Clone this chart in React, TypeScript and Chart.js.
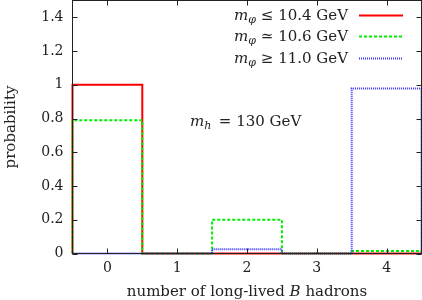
import React, { useEffect, useRef } from "react";
import { Chart, registerables } from "chart.js";

Chart.register(...registerables);

const categories = [0, 1, 2, 3, 4];
const redValues = [1.0, 0, 0, 0, 0];
const greenValues = [0.79, 0, 0.2, 0, 0.015];
const blueValues = [0, 0, 0.025, 0, 0.978];
const yTicks = [0, 0.2, 0.4, 0.6, 0.8, 1, 1.2, 1.4];
const legendLabels = [
  { rel: " \u2264 10.4 GeV" },
  { rel: " \u2243 10.6 GeV" },
  { rel: " \u2265 11.0 GeV" },
];
const xTitleParts = ["number of long-lived ", "B", " hadrons"];
const yTitle = "probability";
const annotationMass = "\u2002= 130 GeV";

const FONT = '"DejaVu Serif", "Liberation Serif", serif';
const TEXT = "#222";
const COLORS = ["#ff0000", "#00ee00", "#3535ff"];
const DASHES: number[][] = [[], [3, 2], [1, 1]];
const WIDTHS = [2, 2, 2];

function steps(vals: number[]) {
  const pts: { x: number; y: number }[] = [{ x: categories[0] - 0.5, y: 0 }];
  categories.forEach((c, i) => pts.push({ x: c - 0.5, y: vals[i] }));
  const last = categories[categories.length - 1] + 0.5;
  pts.push({ x: last, y: vals[vals.length - 1] });
  pts.push({ x: last, y: 0 });
  return pts;
}

type Seg = { t: string; it?: boolean; sub?: boolean };

function segFont(s: Seg, size: number) {
  const sz = s.sub ? Math.round(size * 0.72) : size;
  return `${s.it ? "italic " : ""}${sz}px ${FONT}`;
}

function drawRich(ctx: CanvasRenderingContext2D, segs: Seg[], x: number, y: number, size: number, align: "left" | "right" | "center") {
  let w = 0;
  for (const s of segs) {
    ctx.font = segFont(s, size);
    w += ctx.measureText(s.t).width;
  }
  let cx = align === "left" ? x : align === "right" ? x - w : x - w / 2;
  ctx.textAlign = "left";
  ctx.textBaseline = "alphabetic";
  ctx.fillStyle = TEXT;
  for (const s of segs) {
    ctx.font = segFont(s, size);
    ctx.fillText(s.t, cx, s.sub ? y + size * 0.22 : y);
    cx += ctx.measureText(s.t).width;
  }
}

const decorPlugin = {
  id: "decor",
  afterDraw(chart: any) {
    const ctx: CanvasRenderingContext2D = chart.ctx;
    const { left, right, top, bottom } = chart.chartArea;
    const xs = chart.scales.x;
    const ys = chart.scales.y;
    ctx.save();
    ctx.strokeStyle = "#222";
    ctx.lineWidth = 1;
    ctx.setLineDash([]);
    ctx.beginPath();
    const tl = 5;
    for (const c of categories) {
      const px = Math.round(xs.getPixelForValue(c)) + 0.5;
      ctx.moveTo(px, bottom);
      ctx.lineTo(px, bottom - tl);
      ctx.moveTo(px, top);
      ctx.lineTo(px, top + tl);
    }
    for (const v of yTicks) {
      const py = Math.round(ys.getPixelForValue(v)) + 0.5;
      ctx.moveTo(left, py);
      ctx.lineTo(left + tl, py);
      ctx.moveTo(right, py);
      ctx.lineTo(right - tl, py);
    }
    ctx.stroke();
    ctx.strokeRect(left, top, right - left, bottom - top);

    // legend
    const rowsY = [15, 36, 58];
    const sym = ["\u03c6", "\u03c6", "\u03c6"];
    legendLabels.forEach((l, i) => {
      drawRich(ctx, [{ t: "m", it: true }, { t: sym[i], it: true, sub: true }, { t: l.rel }], 348, rowsY[i] + 5, 15, "right");
      ctx.save();
      ctx.strokeStyle = COLORS[i];
      ctx.lineWidth = WIDTHS[i];
      ctx.setLineDash(DASHES[i]);
      ctx.beginPath();
      ctx.moveTo(359, rowsY[i] + 0.5);
      ctx.lineTo(403, rowsY[i] + 0.5);
      ctx.stroke();
      ctx.restore();
    });

    // annotation
    drawRich(ctx, [{ t: "m", it: true }, { t: "h", it: true, sub: true }, { t: annotationMass }], 190, 126, 15, "left");

    // x title
    drawRich(ctx, [{ t: xTitleParts[0] }, { t: xTitleParts[1], it: true }, { t: xTitleParts[2] }], (left + right) / 2, 296, 15, "center");

    // y title
    ctx.save();
    ctx.translate(15, 127);
    ctx.rotate(-Math.PI / 2);
    drawRich(ctx, [{ t: yTitle }], 0, 0, 15, "center");
    ctx.restore();
    ctx.restore();
  },
};

export default function App() {
  const ref = useRef<HTMLCanvasElement>(null);
  useEffect(() => {
    if (!ref.current) return;
    const data = [redValues, greenValues, blueValues];
    const chart = new Chart(ref.current, {
      type: "line",
      data: {
        datasets: data.map((vals, i) => ({
          data: steps(vals),
          borderColor: COLORS[i],
          borderWidth: WIDTHS[i],
          borderDash: DASHES[i],
          stepped: "before" as const,
          pointRadius: 0,
          fill: false,
          clip: false as any,
          order: 2 - i,
        })),
      },
      options: {
        responsive: false,
        animation: false,
        events: [],
        layout: { padding: { top: 0.5, right: 0.5, left: 0, bottom: 0 } },
        plugins: { legend: { display: false }, tooltip: { enabled: false } },
        scales: {
          x: {
            type: "linear",
            min: -0.5,
            max: 4.5,
            grid: { display: false, drawTicks: false },
            border: { display: false },
            afterBuildTicks: (s: any) => {
              s.ticks = categories.map((v) => ({ value: v }));
            },
            afterFit: (s: any) => {
              s.height = 46.5;
              s.paddingLeft = 0;
              s.paddingRight = 0;
            },
            ticks: {
              padding: 6,
              color: TEXT,
              font: { family: FONT, size: 14 },
              maxRotation: 0,
              callback: (v: any) => String(v),
            },
          },
          y: {
            type: "linear",
            min: 0,
            max: 1.5,
            grid: { display: false, drawTicks: false },
            border: { display: false },
            afterBuildTicks: (s: any) => {
              s.ticks = yTicks.map((v) => ({ value: v }));
            },
            afterFit: (s: any) => {
              s.width = 72.5;
              s.paddingTop = 0;
              s.paddingBottom = 0;
            },
            ticks: {
              padding: 9,
              color: TEXT,
              font: { family: FONT, size: 14 },
              callback: (v: any) => String(Math.round(v * 10) / 10),
            },
          },
        },
      },
      plugins: [decorPlugin],
    });
    return () => chart.destroy();
  }, []);
  return (
    <div style={{ position: "absolute", left: 0, top: 0, width: 422, height: 300, background: "#fff" }}>
      <canvas ref={ref} width={422} height={300} style={{ display: "block" }} />
    </div>
  );
}
